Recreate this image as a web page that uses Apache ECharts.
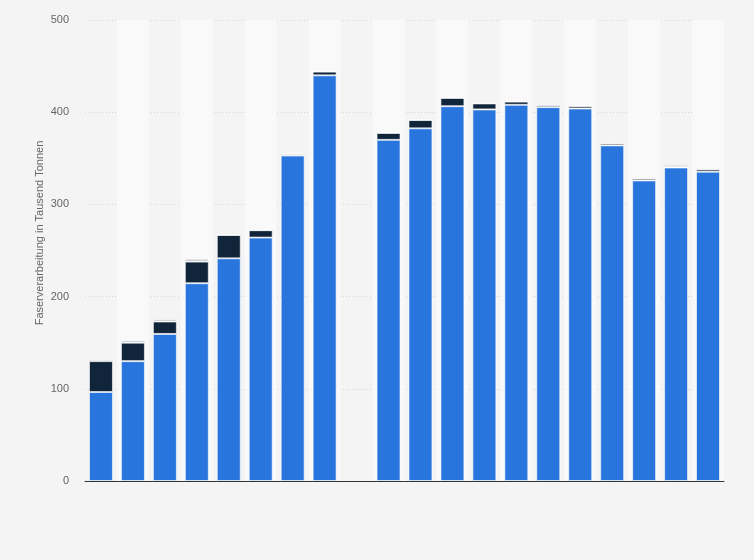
<!DOCTYPE html>
<html>
<head>
<meta charset="utf-8">
<style>
    html, body{ margin: 0; padding: 0; background-color: #f4f4f4;}
    #chart1{ width: 754px; height: 560px;}
</style>
<script src="https://cdn.jsdelivr.net/npm/echarts@6/dist/echarts.min.js"></script>
</head>
<body>
<div id="chart1"></div>
<script>
    // 20 Kategorien, Position 9 ist leer
    var categories = ['1', '2', '3', '4', '5', '6', '7', '8', '', '10', '11', '12', '13', '14', '15', '16', '17', '18', '19', '20'];
    var blueValues = [96.5, 130, 159.5, 214.5, 241.5, 264, 353, 440, null, 370, 382.5, 406.5, 403, 408, 405.5, 404, 364, 326, 340, 335.5];
    var navyValues = [33.5, 20, 13.5, 23.5, 25.3, 8, 1.5, 4, null, 7.5, 9, 9, 6.5, 3.5, 2, 2.5, 2, 2, 0.5, 2.5];
    var greyValues = [2, 2.5, 2.5, 3, 0.5, 0.3, 1, 0.5, null, 0.5, 0.5, 0.3, 0.5, 1, 1.5, 1, 1.5, 1.5, 2.5, 1.5];
    var yTicks = [0, 100, 200, 300, 400, 500];

    var chart = echarts.init(document.getElementById('chart1'));

    function seriesOf(name, data, color){
        return {
            name: name,
            type: 'bar',
            stack: 'total',
            barWidth: '75%',
            data: data,
            itemStyle: {color: color, borderColor: 'rgba(255,255,255,0.6)', borderWidth: 1},
            emphasis: {disabled: true}
        };
    }

    chart.setOption({
        backgroundColor: '#f4f4f4',
        animation: false,
        grid: {left: 85, right: 30, top: 20, bottom: 79},
        xAxis: {
            type: 'category',
            data: categories,
            axisTick: {show: false},
            axisLabel: {show: false},
            axisLine: {lineStyle: {color: '#333', width: 1}},
            splitArea: {show: true, areaStyle: {color: ['rgba(0,0,0,0)', '#f9f9f9']}}
        },
        yAxis: {
            type: 'value',
            min: yTicks[0],
            max: yTicks[yTicks.length - 1],
            interval: 100,
            name: 'Faserverarbeitung in Tausend Tonnen',
            nameLocation: 'middle',
            nameGap: 40,
            nameMoveOverlap: false,
            nameTextStyle: {color: '#666', fontSize: 11, fontFamily: 'Liberation Sans', padding: [0, 0, 0, 35]},
            axisLabel: {color: '#666', fontSize: 11, fontFamily: 'Liberation Sans', margin: 16},
            axisLine: {show: false},
            axisTick: {show: false},
            splitLine: {lineStyle: {color: '#d6d6d6', type: [1, 2]}}
        },
        series: [
            seriesOf('blau', blueValues, '#2775dd'),
            seriesOf('dunkel', navyValues, '#10243a'),
            seriesOf('grau', greyValues, '#b8bcc2')
        ]
    });
</script>
</body>
</html>
